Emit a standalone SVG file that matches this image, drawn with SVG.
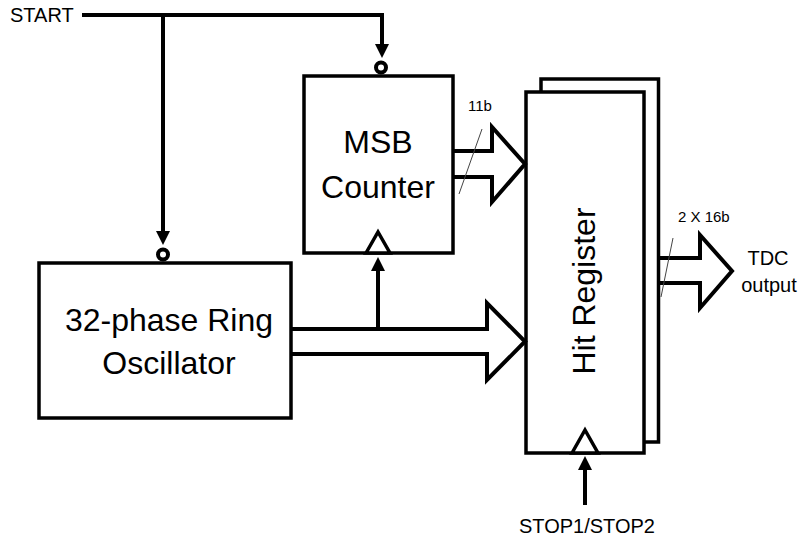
<svg xmlns="http://www.w3.org/2000/svg" width="805" height="540" viewBox="0 0 805 540">
  <style>
    .box { fill: #ffffff; stroke: #000000; stroke-width: 3.5; }
    .wire { fill: none; stroke: #000000; stroke-width: 4; stroke-linejoin: miter; }
    .bus { fill: none; stroke: #000000; stroke-width: 4; stroke-linejoin: miter; stroke-miterlimit: 6; }
    .clk { fill: #ffffff; stroke: #000000; stroke-width: 3.5; stroke-linejoin: miter; }
    .bub { fill: #ffffff; stroke: #000000; stroke-width: 4; }
    .slash { stroke: #444444; stroke-width: 1; }
    .t { font-family: "Liberation Sans", Arial, sans-serif; fill: #000000; }
    .big { font-size: 32px; text-anchor: middle; }
    .lbl { font-size: 20px; }
    .bw { font-size: 15px; }
  </style>
  <defs>
    <marker id="arr" markerUnits="userSpaceOnUse" markerWidth="14" markerHeight="14" refX="4" refY="7" orient="auto">
      <path d="M0,0 L14,7 L0,14 z" fill="#000000"/>
    </marker>
  </defs>
  <rect width="805" height="540" fill="#ffffff"/>

  <g id="ring-oscillator">
    <rect class="box" x="39" y="263" width="252" height="155"/>
    <text class="t big" x="169" y="331">32-phase Ring</text>
    <text class="t big" x="169" y="374">Oscillator</text>
    <circle class="bub" cx="163" cy="254.5" r="5"/>
  </g>

  <g id="msb-counter">
    <rect class="box" x="304" y="76" width="149" height="177"/>
    <text class="t big" x="378" y="153">MSB</text>
    <text class="t big" x="378" y="198">Counter</text>
    <circle class="bub" cx="381" cy="67.5" r="5"/>
    <polygon class="clk" points="366,253 378,232 390,253"/>
  </g>

  <g id="hit-register">
    <rect class="box" x="541" y="79" width="117.5" height="363"/>
    <rect class="box" x="526" y="92" width="118" height="361"/>
    <text class="t big" transform="translate(595,291) rotate(-90)" x="0" y="0">Hit Register</text>
    <polygon class="clk" points="572,453 585,430 598,453"/>
  </g>

  <g id="connectors">
    <polyline class="wire" points="82,15 382,15 382,48" marker-end="url(#arr)"/>
    <polyline class="wire" points="163,15 163,235" marker-end="url(#arr)"/>
    <line class="wire" x1="378" y1="329" x2="378" y2="267" marker-end="url(#arr)"/>
    <line class="wire" x1="585" y1="505" x2="585" y2="466" marker-end="url(#arr)"/>
    <polyline class="bus" points="453,151 492,151 492,127 525,164 492,202 492,177 453,177"/>
    <polyline class="bus" points="291,329 487,329 487,303 525,341.5 487,380 487,354 291,354"/>
    <polyline class="bus" points="658,258 700,258 700,235 732,271 700,308 700,283 658,283"/>
    <line class="slash" x1="482" y1="129" x2="459" y2="194"/>
    <line class="slash" x1="673" y1="238" x2="661" y2="297"/>
  </g>

  <g id="labels">
    <text class="t lbl" x="10" y="22" font-size="19.5">START</text>
    <text class="t lbl" x="587" y="533" text-anchor="middle">STOP1/STOP2</text>
    <text class="t bw" x="468" y="111">11b</text>
    <text class="t bw" x="678" y="222">2 X 16b</text>
    <text class="t lbl" x="768" y="265" text-anchor="middle" font-size="21">TDC</text>
    <text class="t lbl" x="769" y="292" text-anchor="middle" font-size="21">output</text>
  </g>
</svg>
